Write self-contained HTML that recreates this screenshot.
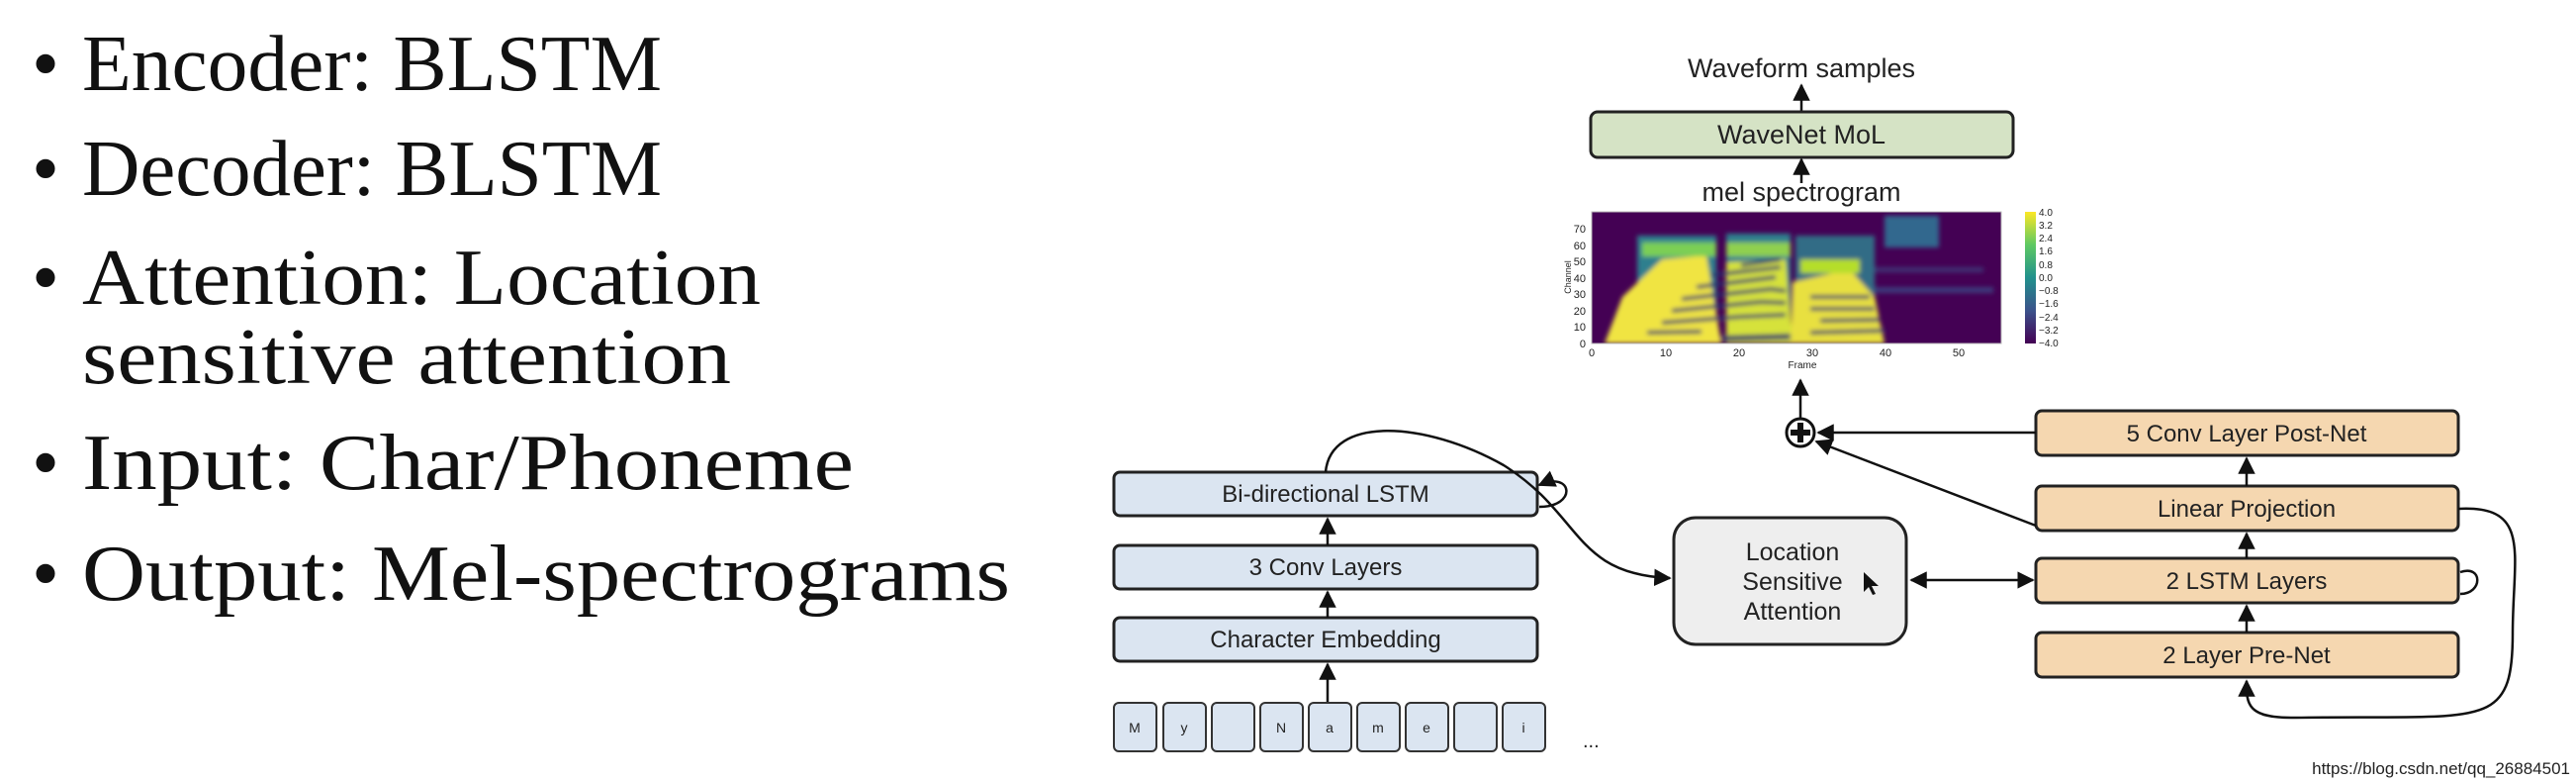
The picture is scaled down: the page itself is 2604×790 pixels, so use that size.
<!DOCTYPE html>
<html><head><meta charset="utf-8"><style>
html,body{margin:0;padding:0;background:#fff;}
svg{display:block;}
.b{font-family:"Liberation Serif",serif;font-size:80px;fill:#111;}
.d{font-family:"Liberation Sans",sans-serif;fill:#222;}
</style></head><body>
<svg width="2604" height="790" viewBox="0 0 2604 790" xmlns="http://www.w3.org/2000/svg">
<defs>
<marker id="ah" viewBox="0 0 10 10" refX="9" refY="5" markerWidth="7" markerHeight="7" orient="auto-start-reverse"><path d="M0,0 L10,5 L0,10 z" fill="#111"/></marker>
<filter id="bl"><feGaussianBlur stdDeviation="2.5"/></filter>
<linearGradient id="cb" x1="0" y1="1" x2="0" y2="0">
<stop offset="0" stop-color="#440154"/><stop offset="0.25" stop-color="#3b528b"/><stop offset="0.5" stop-color="#21918c"/><stop offset="0.75" stop-color="#5ec962"/><stop offset="1" stop-color="#fde725"/></linearGradient>
<clipPath id="pc"><rect x="1609" y="214" width="414" height="133"/></clipPath>
</defs>
<!-- bullets -->
<g class="b">
<text x="32" y="91">•</text><text x="83" y="91" textLength="586" lengthAdjust="spacingAndGlyphs">Encoder: BLSTM</text>
<text x="32" y="197">•</text><text x="83" y="197" textLength="586" lengthAdjust="spacingAndGlyphs">Decoder: BLSTM</text>
<text x="32" y="307">•</text><text x="83" y="307" textLength="686" lengthAdjust="spacingAndGlyphs">Attention: Location</text>
<text x="83" y="387" textLength="656" lengthAdjust="spacingAndGlyphs">sensitive attention</text>
<text x="32" y="494">•</text><text x="83" y="494" textLength="780" lengthAdjust="spacingAndGlyphs">Input: Char/Phoneme</text>
<text x="32" y="606">•</text><text x="83" y="606" textLength="938" lengthAdjust="spacingAndGlyphs">Output: Mel-spectrograms</text>
</g>
<!-- top -->
<text class="d" x="1821" y="78" font-size="27" text-anchor="middle">Waveform samples</text>
<line x1="1821" y1="113" x2="1821" y2="86" stroke="#111" stroke-width="2.5" marker-end="url(#ah)"/>
<rect x="1608" y="113" width="427" height="46" rx="7" fill="#d5e3c5" stroke="#222" stroke-width="3"/>
<text class="d" x="1821" y="145" font-size="27" text-anchor="middle">WaveNet MoL</text>
<line x1="1821" y1="185" x2="1821" y2="161" stroke="#111" stroke-width="2.5" marker-end="url(#ah)"/>
<text class="d" x="1821" y="203" font-size="27" text-anchor="middle">mel spectrogram</text>
<!-- spectrogram -->
<rect x="1609" y="214" width="414" height="133" fill="#440154"/>
<g clip-path="url(#pc)" filter="url(#bl)">
<rect x="1655" y="238" width="80" height="109" fill="#2f7f8e"/>
<rect x="1745" y="236" width="65" height="111" fill="#2f7f8e"/>
<rect x="1815" y="238" width="80" height="109" fill="#2f7f8e" opacity="0.85"/>
<rect x="1895" y="290" width="120" height="6" fill="#3b528b" opacity="0.7"/>
<rect x="1895" y="270" width="110" height="5" fill="#3b528b" opacity="0.6"/>
<rect x="1905" y="218" width="55" height="32" fill="#31688e"/>
<polygon points="1622,347 1640,300 1680,262 1725,258 1740,347" fill="#f0e443"/>
<polygon points="1745,347 1745,265 1805,262 1812,347" fill="#d6e23a"/>
<polygon points="1810,347 1812,285 1870,272 1895,300 1905,347" fill="#e8e040"/>
<rect x="1660" y="245" width="75" height="14" fill="#7ccf55"/>
<rect x="1745" y="245" width="65" height="14" fill="#8fd04f"/>
<rect x="1820" y="262" width="60" height="14" fill="#b5de2b"/>
<g stroke="#2c2e6e" stroke-width="4" opacity="0.85" fill="none">
<path d="M1665,336 L1720,335 M1680,326 L1760,320 L1805,318 M1690,314 L1780,305 L1805,306 M1700,302 L1790,292 L1805,294 M1715,290 L1795,280 M1730,278 L1800,270 M1760,268 L1800,262"/>
<path d="M1830,336 L1905,334 M1840,324 L1900,323 M1830,312 L1895,312 M1830,300 L1890,300"/>
<path d="M1740,342 L1810,340" stroke-width="6"/>
</g>
</g>
<rect x="1609" y="214" width="414" height="133" fill="none" stroke="#bbb" stroke-width="1"/>
<g class="d" font-size="11" fill="#555">
<text x="1603" y="351" text-anchor="end">0</text><text x="1603" y="334" text-anchor="end">10</text><text x="1603" y="318" text-anchor="end">20</text><text x="1603" y="301" text-anchor="end">30</text><text x="1603" y="285" text-anchor="end">40</text><text x="1603" y="268" text-anchor="end">50</text><text x="1603" y="252" text-anchor="end">60</text><text x="1603" y="235" text-anchor="end">70</text>
<text x="1609" y="360" text-anchor="middle">0</text><text x="1684" y="360" text-anchor="middle">10</text><text x="1758" y="360" text-anchor="middle">20</text><text x="1832" y="360" text-anchor="middle">30</text><text x="1906" y="360" text-anchor="middle">40</text><text x="1980" y="360" text-anchor="middle">50</text>
<text x="1822" y="372" text-anchor="middle" font-size="10">Frame</text>
<text x="1588" y="280" font-size="9" transform="rotate(-90 1588 280)" text-anchor="middle">Channel</text>
</g>
<rect x="2047" y="214" width="11" height="133" fill="url(#cb)"/>
<g class="d" font-size="10" fill="#555">
<text x="2061" y="218">4.0</text><text x="2061" y="231">3.2</text><text x="2061" y="244">2.4</text><text x="2061" y="257">1.6</text><text x="2061" y="271">0.8</text><text x="2061" y="284">0.0</text><text x="2061" y="297">−0.8</text><text x="2061" y="310">−1.6</text><text x="2061" y="324">−2.4</text><text x="2061" y="337">−3.2</text><text x="2061" y="350">−4.0</text>
</g>
<!-- plus -->
<line x1="1820" y1="422" x2="1820" y2="384" stroke="#111" stroke-width="2.5" marker-end="url(#ah)"/>
<circle cx="1820" cy="437" r="14" fill="#fff" stroke="#111" stroke-width="3"/>
<path d="M1820,427 V447 M1810,437 H1830" stroke="#111" stroke-width="6"/>
<!-- decoder boxes -->
<g stroke="#222" stroke-width="3" fill="#f5d7b0">
<rect x="2058" y="415" width="427" height="45" rx="6"/>
<rect x="2058" y="491" width="427" height="45" rx="6"/>
<rect x="2058" y="564" width="427" height="45" rx="6"/>
<rect x="2058" y="639" width="427" height="45" rx="6"/>
</g>
<g class="d" font-size="24" text-anchor="middle">
<text x="2271" y="446">5 Conv Layer Post-Net</text>
<text x="2271" y="522">Linear Projection</text>
<text x="2271" y="595">2 LSTM Layers</text>
<text x="2271" y="670">2 Layer Pre-Net</text>
</g>
<g stroke="#111" stroke-width="2.5" fill="none">
<line x1="2271" y1="491" x2="2271" y2="463" marker-end="url(#ah)"/>
<line x1="2271" y1="564" x2="2271" y2="539" marker-end="url(#ah)"/>
<line x1="2271" y1="639" x2="2271" y2="612" marker-end="url(#ah)"/>
<line x1="2058" y1="437" x2="1838" y2="437" marker-end="url(#ah)"/>
<line x1="2058" y1="531" x2="1836" y2="446" marker-end="url(#ah)"/>
<path d="M2485,514 C2560,510 2540,560 2540,640 C2540,740 2510,722 2320,725 C2270,726 2271,710 2271,688" marker-end="url(#ah)"/>
<path d="M2487,578 C2510,570 2510,600 2487,600" />
<line x1="1932" y1="586" x2="2055" y2="586" marker-start="url(#ah)" marker-end="url(#ah)"/>
</g>
<!-- attention -->
<rect x="1692" y="523" width="235" height="128" rx="22" fill="#eeeeee" stroke="#222" stroke-width="3"/>
<g class="d" font-size="25" text-anchor="middle">
<text x="1812" y="566">Location</text><text x="1812" y="596">Sensitive</text><text x="1812" y="626">Attention</text>
</g>
<path d="M1884,578 l0,20 l5,-5 l4,8 l3,-1 l-4,-8 l7,0 z" fill="#111"/>
<!-- encoder -->
<g stroke="#222" stroke-width="3" fill="#dbe5f1">
<rect x="1126" y="477" width="428" height="44" rx="6"/>
<rect x="1126" y="551" width="428" height="44" rx="6"/>
<rect x="1126" y="624" width="428" height="44" rx="6"/>
</g>
<g class="d" font-size="24" text-anchor="middle">
<text x="1340" y="507">Bi-directional LSTM</text>
<text x="1340" y="581">3 Conv Layers</text>
<text x="1340" y="654">Character Embedding</text>
</g>
<g stroke="#111" stroke-width="2.5" fill="none">
<line x1="1342" y1="551" x2="1342" y2="524" marker-end="url(#ah)"/>
<line x1="1342" y1="624" x2="1342" y2="598" marker-end="url(#ah)"/>
<line x1="1342" y1="709" x2="1342" y2="671" marker-end="url(#ah)"/>
<path d="M1340,477 C1345,420 1440,425 1520,470 C1600,520 1590,580 1688,584" marker-end="url(#ah)"/>
<path d="M1556,490 C1590,475 1595,512 1556,512" marker-start="url(#ah)"/>
</g>
<g stroke="#333" stroke-width="2" fill="#dbe5f1">
<rect x="1126" y="710" width="43" height="49" rx="5"/><rect x="1176" y="710" width="43" height="49" rx="5"/><rect x="1225" y="710" width="43" height="49" rx="5"/><rect x="1274" y="710" width="43" height="49" rx="5"/><rect x="1323" y="710" width="43" height="49" rx="5"/><rect x="1372" y="710" width="43" height="49" rx="5"/><rect x="1421" y="710" width="43" height="49" rx="5"/><rect x="1470" y="710" width="43" height="49" rx="5"/><rect x="1519" y="710" width="43" height="49" rx="5"/>
</g>
<g class="d" font-size="14" text-anchor="middle">
<text x="1147" y="740">M</text><text x="1197" y="740">y</text><text x="1295" y="740">N</text><text x="1344" y="740">a</text><text x="1393" y="740">m</text><text x="1442" y="740">e</text><text x="1540" y="740">i</text>
</g>
<text class="d" x="1600" y="755" font-size="20">...</text>
<text class="d" x="2598" y="782" font-size="17" fill="#ccc" text-anchor="end">https://blog.csdn.net/qq_26884501</text>
</svg>
</body></html>
